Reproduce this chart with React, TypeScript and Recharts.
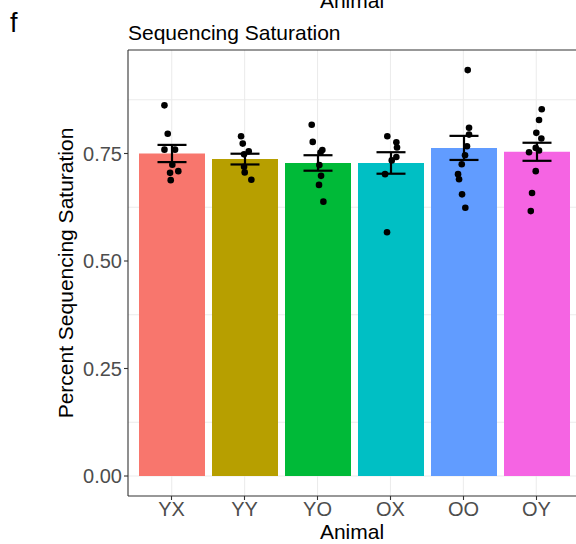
import React from "react";
import { ComposedChart, Bar, Scatter, ErrorBar, XAxis, YAxis, CartesianGrid, ReferenceLine, Cell } from "recharts";

const animals = ["YX", "YY", "YO", "OX", "OO", "OY"];
const meanSaturation = [0.75, 0.737, 0.728, 0.728, 0.763, 0.754];
const stdErrors = [0.02, 0.0125, 0.018, 0.025, 0.028, 0.021];

// per-animal sample values and their horizontal jitter (in category units)
const sampleValues = [
  [0.862, 0.796, 0.759, 0.759, 0.724, 0.705, 0.709, 0.688],
  [0.79, 0.773, 0.755, 0.748, 0.719, 0.706, 0.689],
  [0.817, 0.777, 0.758, 0.752, 0.723, 0.698, 0.677, 0.638],
  [0.79, 0.776, 0.764, 0.742, 0.734, 0.702, 0.567],
  [0.944, 0.81, 0.794, 0.767, 0.746, 0.725, 0.702, 0.69, 0.655, 0.624],
  [0.853, 0.828, 0.798, 0.785, 0.763, 0.757, 0.753, 0.709, 0.658, 0.616],
];
const sampleJitter = [
  [-0.1, -0.055, -0.1, 0.045, 0.008, -0.023, 0.09, -0.014],
  [-0.049, -0.026, 0.056, -0.008, -0.008, 0.001, 0.092],
  [-0.08, -0.066, 0.066, 0.04, 0.025, 0.048, 0.02, 0.08],
  [-0.043, 0.081, 0.09, 0.081, 0.018, -0.074, -0.047],
  [0.06, 0.078, 0.078, 0.05, 0.023, -0.022, -0.073, -0.059, -0.018, 0.027],
  [0.075, 0.038, 0.001, 0.07, -0.007, 0.038, -0.099, -0.007, -0.058, -0.075],
];

const yTicks = [0, 0.25, 0.5, 0.75];
const yMinorGrid = [0.125, 0.375, 0.625, 0.875];
const yDomain = [-0.0465, 0.9907];

const fills = ["#F8766D", "#B79F00", "#00BA38", "#00BFC4", "#619CFF", "#F564E3"];
const FONT = "'Liberation Sans', Arial, sans-serif";

const barData = animals.map((name, i) => ({
  name,
  mean: meanSaturation[i],
  se: stdErrors[i],
}));

const pointData = sampleValues.flatMap((vals, i) =>
  vals.map((v, j) => ({ x: i + 1 + sampleJitter[i][j], v }))
);

const xPositions = animals.map((_, i) => i + 1);

const Dot = (props: any) => <circle cx={props.cx} cy={props.cy} r={3.3} fill="#000" />;

export default function App() {
  return (
    <div
      style={{
        position: "fixed",
        left: 0,
        top: 0,
        width: 576,
        height: 544,
        overflow: "hidden",
        background: "#fff",
        fontFamily: FONT,
      }}
    >
      <ComposedChart width={600} height={544} data={barData} margin={{ top: 50, right: 20, left: 0, bottom: 0 }}>
        <CartesianGrid
          xAxisId="pts"
          stroke="#EBEBEB"
          strokeWidth={1}
          horizontalValues={[...yTicks, ...yMinorGrid]}
          verticalValues={xPositions}
        />
        <XAxis
          dataKey="name"
          type="category"
          padding={{ left: 7, right: 7 }}
          interval={0}
          height={48}
          tickSize={4}
          tickMargin={2}
          tick={{ fontSize: 20, fill: "#4D4D4D", fontFamily: FONT }}
          axisLine={{ stroke: "#333333", strokeWidth: 1.1 }}
          tickLine={{ stroke: "#333333", strokeWidth: 1.1 }}
        />
        <XAxis xAxisId="pts" dataKey="x" type="number" domain={[0.4, 6.6]} allowDataOverflow hide />
        <YAxis
          type="number"
          domain={yDomain}
          ticks={yTicks}
          allowDataOverflow
          width={128}
          tickSize={4}
          tickMargin={2}
          tickFormatter={(v: number) => v.toFixed(2)}
          tick={{ fontSize: 20, fill: "#4D4D4D", fontFamily: FONT }}
          axisLine={{ stroke: "#333333", strokeWidth: 1.1 }}
          tickLine={{ stroke: "#333333", strokeWidth: 1.1 }}
        />
        <ReferenceLine y={yDomain[1]} stroke="#333333" strokeWidth={1.1} />
        <Bar dataKey="mean" barSize={66} fill="#999" isAnimationActive={false}>
          {barData.map((d, i) => (
            <Cell key={d.name} fill={fills[i]} />
          ))}
          <ErrorBar dataKey="se" width={14.5} stroke="#000" strokeWidth={2.2} />
        </Bar>
        <Scatter xAxisId="pts" data={pointData} dataKey="v" shape={Dot} isAnimationActive={false} />
      </ComposedChart>
      <svg
        width={576}
        height={544}
        style={{ position: "absolute", left: 0, top: 0, pointerEvents: "none", fontFamily: FONT }}
      >
        <text x={10} y={32} fontSize={27} fill="#000">f</text>
        <text x={352} y={8} fontSize={21} fill="#000" textAnchor="middle">Animal</text>
        <text x={128} y={40} fontSize={21} fill="#000">Sequencing Saturation</text>
        <text x={352} y={539} fontSize={21} fill="#000" textAnchor="middle">Animal</text>
        <text
          x={0}
          y={0}
          fontSize={21}
          fill="#000"
          textAnchor="middle"
          transform="translate(73,273) rotate(-90)"
        >
          Percent Sequencing Saturation
        </text>
      </svg>
    </div>
  );
}
